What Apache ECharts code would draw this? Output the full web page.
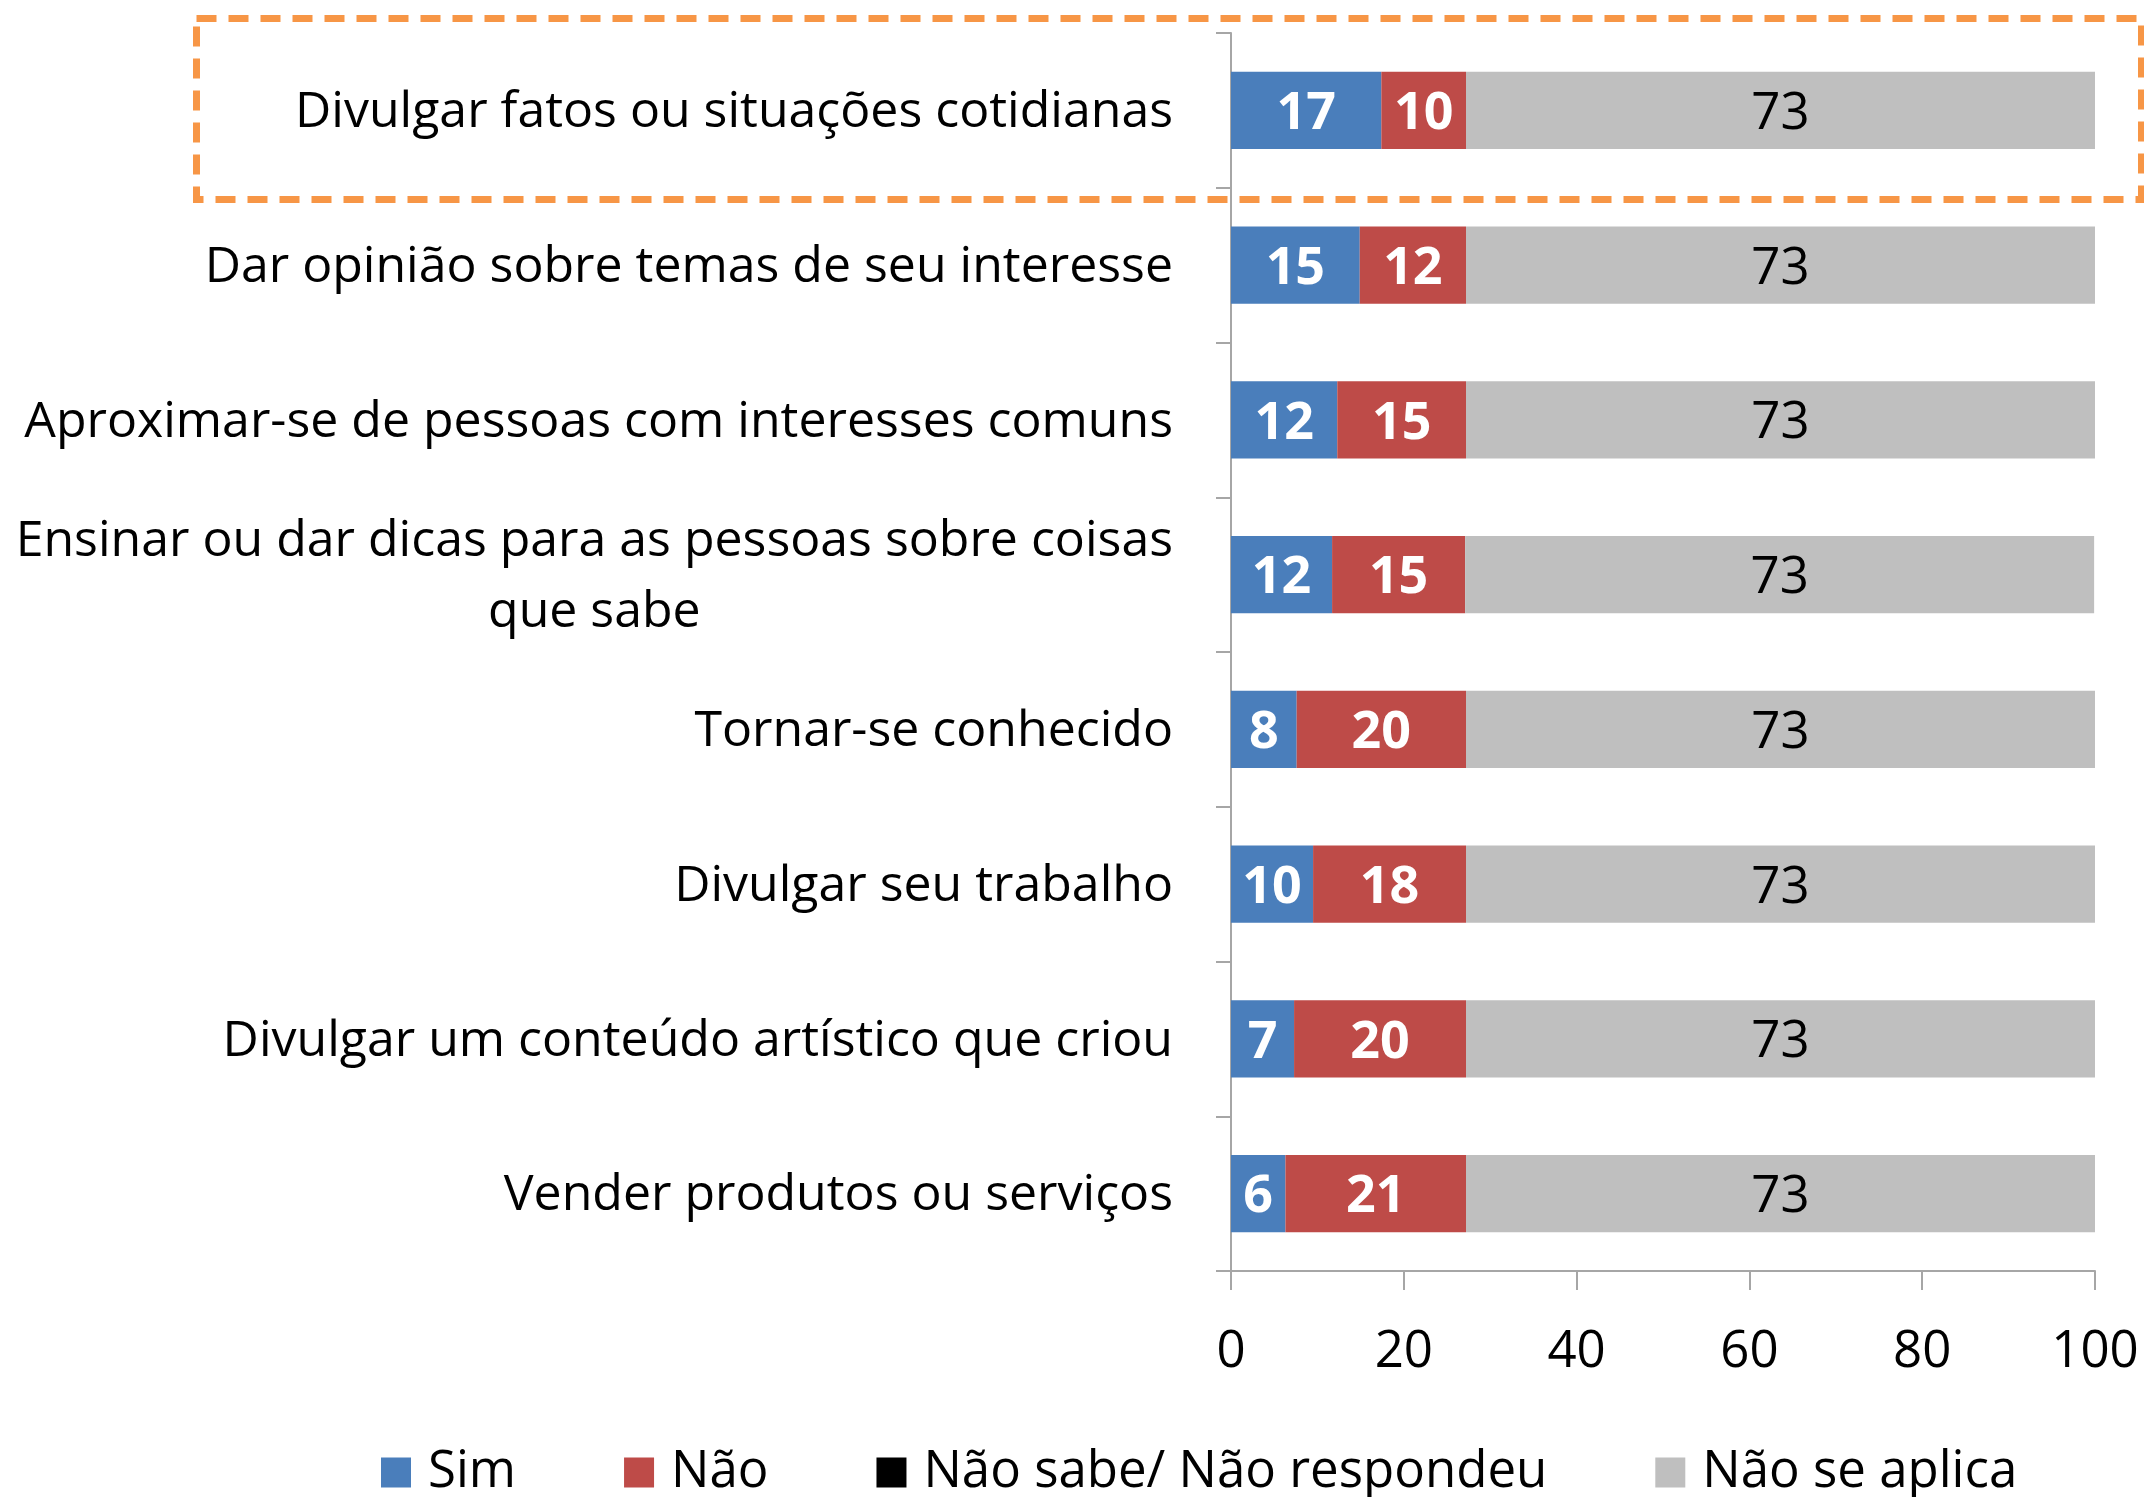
<!DOCTYPE html>
<html>
<head>
<meta charset="utf-8">
<script src="https://cdn.jsdelivr.net/npm/echarts@6/dist/echarts.min.js"></script>
<style>
  html, body { margin: 0; padding: 0; background: #fff; }
  #chart { width: 2144px; height: 1497px; }
</style>
</head>
<body>
<div id="chart"></div>
<script>
// categorias (de cima para baixo)
var categories = [
  'Divulgar fatos ou situações cotidianas',
  'Dar opinião sobre temas de seu interesse',
  'Aproximar-se de pessoas com interesses comuns',
  'Ensinar ou dar dicas para as pessoas sobre coisas\nque sabe',
  'Tornar-se conhecido',
  'Divulgar seu trabalho',
  'Divulgar um conteúdo artístico que criou',
  'Vender produtos ou serviços'
];
var simData = [17.4, 14.9, 12.3, 11.7, 7.6, 9.5, 7.3, 6.3];
var naoData = [9.8, 12.3, 14.9, 15.4, 19.6, 17.7, 19.9, 20.9];
var nsnrData = [0, 0, 0, 0, 0, 0, 0, 0];
var naoAplicaData = [72.8, 72.8, 72.8, 72.8, 72.8, 72.8, 72.8, 72.8];
var xTicks = [0, 20, 40, 60, 80, 100];

var FONT = '"Open Sans", "Noto Sans", sans-serif';
var chart = echarts.init(document.getElementById('chart'));

function valLabel(color, weight, size) {
  return {
    show: true,
    position: 'inside',
    color: color,
    fontFamily: FONT,
    fontSize: size,
    fontWeight: weight,
    offset: [0, 4],
    formatter: function (p) { return p.value > 0 ? Math.round(p.value) : ''; }
  };
}

chart.setOption({
  animation: false,
  textStyle: { fontFamily: FONT },
  legend: {
    bottom: -6,
    left: 376,
    itemWidth: 30,
    itemHeight: 30,
    itemGap: 108,
    icon: 'rect',
    textStyle: { fontSize: 51, color: '#000', fontFamily: FONT, padding: [0, 0, 0, 12] },
    data: ['Sim', 'Não', 'Não sabe/ Não respondeu', 'Não se aplica']
  },
  grid: { left: 1231, right: 49, top: 33, bottom: 226 },
  xAxis: {
    type: 'value',
    min: 0,
    max: 100,
    interval: 20,
    axisLine: { show: true, lineStyle: { color: '#A6A6A6', width: 2 } },
    axisTick: { show: true, length: 19, lineStyle: { color: '#A6A6A6', width: 2 } },
    splitLine: { show: false },
    axisLabel: {
      color: '#000',
      fontSize: 51,
      fontFamily: FONT,
      margin: 56,
      formatter: function (v) { return xTicks.indexOf(v) >= 0 ? String(v) : ''; }
    }
  },
  yAxis: {
    type: 'category',
    inverse: true,
    data: categories,
    axisLine: { show: true, lineStyle: { color: '#A6A6A6', width: 2 } },
    axisTick: { show: true, length: 15, lineStyle: { color: '#A6A6A6', width: 2 } },
    axisLabel: {
      color: '#000',
      fontSize: 50,
      fontFamily: FONT,
      margin: 58,
      formatter: function (v) {
        var parts = v.split('\n');
        if (parts.length > 1) {
          return '{a|' + parts[0] + '}\n{c|' + parts[1] + '}';
        }
        return '{a|' + v + '}';
      },
      rich: {
        a: { fontSize: 50, fontFamily: FONT, color: '#000', lineHeight: 71, padding: [5, 0, 0, 0] },
        c: { fontSize: 50, fontFamily: FONT, color: '#000', lineHeight: 71, align: 'center', padding: [5, 0, 0, 0] }
      }
    }
  },
  series: [
    {
      name: 'Sim', type: 'bar', stack: 'total', barWidth: '50%',
      itemStyle: { color: '#4A7EBB' },
      label: valLabel('#fff', 'bold', 52),
      data: simData
    },
    {
      name: 'Não', type: 'bar', stack: 'total',
      itemStyle: { color: '#BE4B48' },
      label: valLabel('#fff', 'bold', 52),
      data: naoData
    },
    {
      name: 'Não sabe/ Não respondeu', type: 'bar', stack: 'total',
      itemStyle: { color: '#000' },
      label: { show: false },
      data: nsnrData
    },
    {
      name: 'Não se aplica', type: 'bar', stack: 'total',
      itemStyle: { color: '#BFBFBF' },
      label: valLabel('#000', 'normal', 51),
      data: naoAplicaData
    }
  ],
  graphic: [{
    type: 'rect',
    left: 193,
    top: 15,
    shape: { width: 1945, height: 181 },
    style: { fill: 'none', stroke: '#F79646', lineWidth: 7, lineDash: [20, 12] },
    z: 100
  }]
});
</script>
</body>
</html>
